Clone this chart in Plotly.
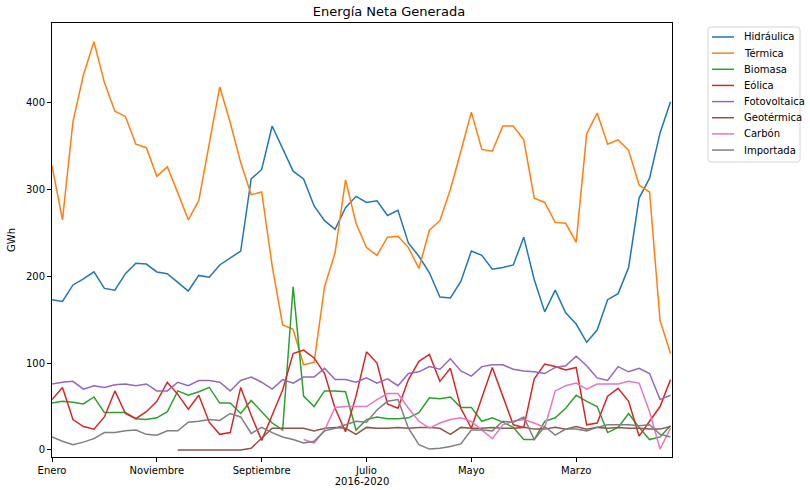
import plotly.graph_objects as go

# Monthly net generation by source, January 2016 - December 2020 (GWh)
meses_nombres = ["Enero", "Febrero", "Marzo", "Abril", "Mayo", "Junio",
                 "Julio", "Agosto", "Septiembre", "Octubre", "Noviembre", "Diciembre"]
anios = [2016, 2017, 2018, 2019, 2020]
meses = [m for _ in anios for m in meses_nombres]

hidraulica = [173, 171, 190, 197, 205, 186, 184, 203, 215, 214,
              205, 203, 193, 183, 201, 199, 213, 221, 229, 312,
              323, 373, 347, 321, 312, 281, 264, 254, 279, 292,
              285, 287, 270, 276, 238, 223, 204, 176, 175, 194,
              229, 224, 208, 210, 213, 245, 196, 159, 184, 158,
              145, 124, 138, 173, 180, 210, 290, 313, 365, 401]

termica = [327, 265, 378, 432, 470, 423, 390, 384, 352, 348,
           315, 326, 296, 265, 287, 352, 418, 377, 331, 294,
           297, 212, 144, 139, 98, 101, 188, 227, 311, 261,
           233, 224, 245, 246, 233, 209, 253, 264, 300, 344,
           389, 346, 344, 373, 373, 357, 290, 285, 262, 261,
           239, 364, 388, 352, 357, 345, 305, 297, 149, 111]

biomasa = [54, 56, 55, 53, 61, 43, 43, 43, 36, 35,
           37, 44, 68, 63, 67, 72, 54, 54, 42, 57,
           44, 31, 23, 188, 62, 50, 68, 68, 67, 23,
           35, 38, 36, 36, 37, 43, 60, 59, 61, 49,
           49, 33, 37, 32, 26, 12, 12, 33, 37, 48,
           63, 56, 50, 20, 26, 42, 26, 12, 15, 28]

eolica = [58, 72, 35, 27, 24, 38, 68, 42, 36, 44,
          56, 78, 64, 47, 63, 32, 18, 20, 72, 40,
          11, 40, 69, 111, 115, 106, 88, 48, 21, 62,
          113, 100, 53, 48, 81, 102, 110, 79, 94, 48,
          25, 60, 95, 62, 29, 26, 82, 99, 96, 92,
          95, 29, 31, 62, 71, 56, 16, 33, 50, 81]

fotovoltaica = [76, 78, 79, 70, 74, 72, 75, 76, 74, 76,
                68, 68, 78, 74, 80, 80, 78, 68, 80, 84,
                78, 70, 81, 77, 84, 84, 94, 81, 81, 78,
                83, 77, 82, 74, 88, 90, 96, 93, 105, 91,
                85, 96, 98, 98, 93, 91, 90, 88, 95, 97,
                108, 97, 83, 80, 96, 90, 94, 88, 58, 63]

geotermica = [None] * 12 + [0, 0, 0, 0, 0, 0, 0, 2,
              14, 25, 25, 25, 25, 22, 25, 26, 25, 18,
              26, 25, 25, 26, 25, 26, 26, 25, 18, 26,
              25, 25, 26, 25, 25, 26, 24, 24, 26, 24,
              27, 24, 26, 25, 26, 25, 25, 24, 24, 27]

carbon = [None] * 24 + [12, 8, 23, 49, 50, 50,
          50, 58, 65, 65, 48, 33, 25, 31, 35, 37,
          33, 23, 13, 29, 33, 35, 31, 26, 68, 74,
          77, 70, 76, 76, 76, 79, 77, 44, 1, 25]

importada = [15, 10, 6, 9, 13, 20, 20, 22, 23, 18,
             17, 22, 22, 32, 33, 35, 34, 42, 38, 19,
             26, 20, 15, 12, 8, 10, 22, 25, 29, 33,
             32, 46, 56, 58, 25, 6, 1, 2, 4, 7,
             23, 23, 22, 33, 32, 38, 12, 27, 17, 24,
             24, 22, 26, 29, 29, 29, 28, 29, 18, 15]

nombres = ["Hidráulica", "Térmica", "Biomasa", "Eólica",
           "Fotovoltaica", "Geotérmica", "Carbón", "Importada"]
valores = [hidraulica, termica, biomasa, eolica,
           fotovoltaica, geotermica, carbon, importada]
colores = ["#1f77b4", "#ff7f0e", "#2ca02c", "#d62728",
           "#9467bd", "#8c564b", "#e377c2", "#7f7f7f"]

x = list(range(len(meses)))
tick_idx = list(range(0, len(meses), 10))

W, H = 810, 490
ML, MR, MT, MB = 52, 138, 23, 33
PW, PH = W - ML - MR, H - MT - MB


def px_to_paper_x(px):
    return (px - ML) / PW


def px_to_paper_y(py):
    return (H - MB - py) / PH


fig = go.Figure()
for nombre, ys, color in zip(nombres, valores, colores):
    fig.add_trace(go.Scatter(
        x=x, y=ys, name=nombre, mode="lines",
        line=dict(color=color, width=1.5),
        connectgaps=False, showlegend=False,
    ))

font = "DejaVu Sans"
axis_common = dict(
    showline=True, linecolor="#000000", linewidth=1, mirror=True,
    ticks="outside", ticklen=4, tickwidth=1, tickcolor="#000000",
    showgrid=False, zeroline=False,
    tickfont=dict(family=font, size=10, color="#000000"),
)

# Legend box drawn outside the plot area, to the right
box_l, box_r, box_t, box_b, rad = 708, 800, 27, 162, 3
x0, x1 = px_to_paper_x(box_l), px_to_paper_x(box_r)
y0, y1 = px_to_paper_y(box_b), px_to_paper_y(box_t)
rx, ry = rad / PW, rad / PH
path = (f"M {x0+rx},{y1} L {x1-rx},{y1} Q {x1},{y1} {x1},{y1-ry} "
        f"L {x1},{y0+ry} Q {x1},{y0} {x1-rx},{y0} L {x0+rx},{y0} "
        f"Q {x0},{y0} {x0},{y0+ry} L {x0},{y1-ry} Q {x0},{y1} {x0+rx},{y1} Z")
shapes = [dict(type="path", path=path, xref="paper", yref="paper",
               line=dict(color="#d5d5d5", width=1), fillcolor="white",
               layer="above")]
annotations = []
for k, (nombre, color) in enumerate(zip(nombres, colores)):
    yc = px_to_paper_y(37 + 16.15 * k)
    shapes.append(dict(type="line", xref="paper", yref="paper",
                       x0=px_to_paper_x(712), x1=px_to_paper_x(734),
                       y0=yc, y1=yc, line=dict(color=color, width=1.5)))
    annotations.append(dict(text=nombre, xref="paper", yref="paper",
                            x=px_to_paper_x(742), y=yc, xanchor="left",
                            yanchor="middle", showarrow=False,
                            font=dict(family=font, size=10, color="#000000")))

fig.update_layout(
    width=W, height=H,
    paper_bgcolor="white", plot_bgcolor="white",
    margin=dict(l=ML, r=MR, t=MT, b=MB, autoexpand=False),
    title=dict(text="Energía Neta Generada", x=px_to_paper_x(389), xref="paper",
               xanchor="center", y=0.985, yanchor="top",
               font=dict(family=font, size=13, color="#000000")),
    xaxis=dict(range=[0, 59.14], tickvals=tick_idx,
               ticktext=[meses[i] for i in tick_idx],
               title=dict(text="2016-2020", standoff=2,
                          font=dict(family=font, size=10, color="#000000")),
               **axis_common),
    yaxis=dict(range=[-8.1, 491.6], tickvals=[0, 100, 200, 300, 400],
               title=dict(text="GWh", standoff=8,
                          font=dict(family=font, size=10, color="#000000")),
               **axis_common),
    shapes=shapes,
    annotations=annotations,
    showlegend=False,
)

fig.write_html("out.html")
